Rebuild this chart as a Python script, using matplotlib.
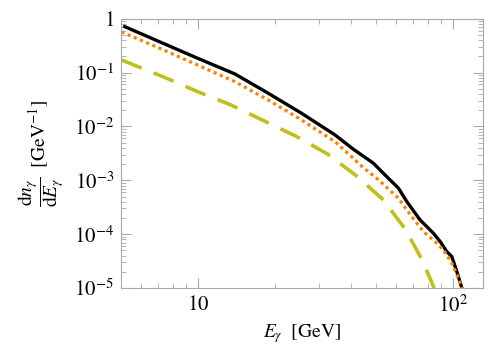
import matplotlib
matplotlib.use("Agg")
import matplotlib.pyplot as plt
from matplotlib.ticker import FixedLocator, FixedFormatter, LogLocator, NullFormatter

plt.rcParams['mathtext.fontset'] = 'stix'
plt.rcParams['font.family'] = ['STIXGeneral', 'DejaVu Serif']

# total spectrum (solid black)
e_total = [5.17, 7.09, 10, 13.97, 18.88, 25.5, 34.5, 40.7, 48.8, 53.4, 61.2, 66.0, 74.4,
           83.9, 89.2, 94.7, 99.1, 103.7, 108.5]
dn_total = [0.711, 0.371, 0.1834, 0.0942, 0.0413, 0.01757, 6.96e-3, 3.78e-3, 2.08e-3,
            1.35e-3, 7.14e-4, 4.03e-4, 1.84e-4, 1.04e-4, 7.3e-5, 4.76e-5, 3.84e-5,
            2.02e-5, 1.0e-5]

# orange dotted
e_dot = [5.02, 7.09, 10, 13.97, 18.88, 25.5, 34.5, 40.7, 43.3, 51.1, 61.2, 69.0, 76.7,
         86.5, 91.8, 99.1, 105.2, 108.5]
dn_dot = [0.567, 0.282, 0.137, 0.0678, 0.0310, 0.0132, 5.22e-3, 2.57e-3, 1.93e-3, 1.02e-3,
          4.66e-4, 2.12e-4, 1.12e-4, 6.8e-5, 5.1e-5, 2.9e-5, 1.53e-5, 1.0e-5]

# olive dashed
e_dash = [5.02, 7.42, 10, 13.48, 18.2, 24.3, 32.2, 41.9, 53.4, 65.0, 75.8, 84.5]
dn_dash = [0.171, 0.081, 0.044, 0.0251, 0.01265, 6.55e-3, 3.09e-3, 1.21e-3, 4.33e-4,
           1.25e-4, 3.34e-5, 1e-5]

x_ticks = [10, 100]
x_labels = [r'$10$', r'$10^{2}$']
y_ticks = [1e-5, 1e-4, 1e-3, 1e-2, 1e-1, 1]
y_labels = [r'$10^{-5}$', r'$10^{-4}$', r'$10^{-3}$', r'$10^{-2}$', r'$10^{-1}$', r'$1$']

fig = plt.figure(figsize=(4.98, 3.45), dpi=100)
ax = fig.add_axes([0.243, 0.165, 0.726, 0.781])

ax.plot(e_dash, dn_dash, color='#c0c01c', lw=2.6, dashes=(6, 3.6))
ax.plot(e_total, dn_total, color='black', lw=2.4)
ax.plot(e_dot, dn_dot, color='#ff8000', lw=2.3, linestyle=(0, (1, 1.1)))

ax.set_xscale('log')
ax.set_yscale('log')
ax.set_xlim(5.0, 130.8)
ax.set_ylim(1e-5, 1)

ax.xaxis.set_major_locator(FixedLocator(x_ticks))
ax.xaxis.set_major_formatter(FixedFormatter(x_labels))
ax.xaxis.set_minor_locator(LogLocator(base=10, subs=range(2, 10), numticks=20))
ax.xaxis.set_minor_formatter(NullFormatter())
ax.yaxis.set_major_locator(FixedLocator(y_ticks))
ax.yaxis.set_major_formatter(FixedFormatter(y_labels))
ax.yaxis.set_minor_locator(LogLocator(base=10, subs=range(2, 10), numticks=20))
ax.yaxis.set_minor_formatter(NullFormatter())

for s in ax.spines.values():
    s.set_color('#a8a8a8')
    s.set_linewidth(0.8)
ax.tick_params(which='both', direction='in', top=True, right=True, color='#a8a8a8',
               labelsize=15, labelcolor='black')
ax.tick_params(which='major', length=7, width=0.8, pad=5)
ax.tick_params(which='minor', length=3.5, width=0.6)

ax.set_xlabel(r'$E_\gamma\ \ [\mathrm{GeV}]$', fontsize=14, labelpad=4)
ax.set_ylabel(r'$\dfrac{\mathrm{d}n_\gamma}{\mathrm{d}E_\gamma}\ \ [\mathrm{GeV}^{-1}]$',
              fontsize=14, labelpad=6)

fig.savefig('out.png', dpi=100)
